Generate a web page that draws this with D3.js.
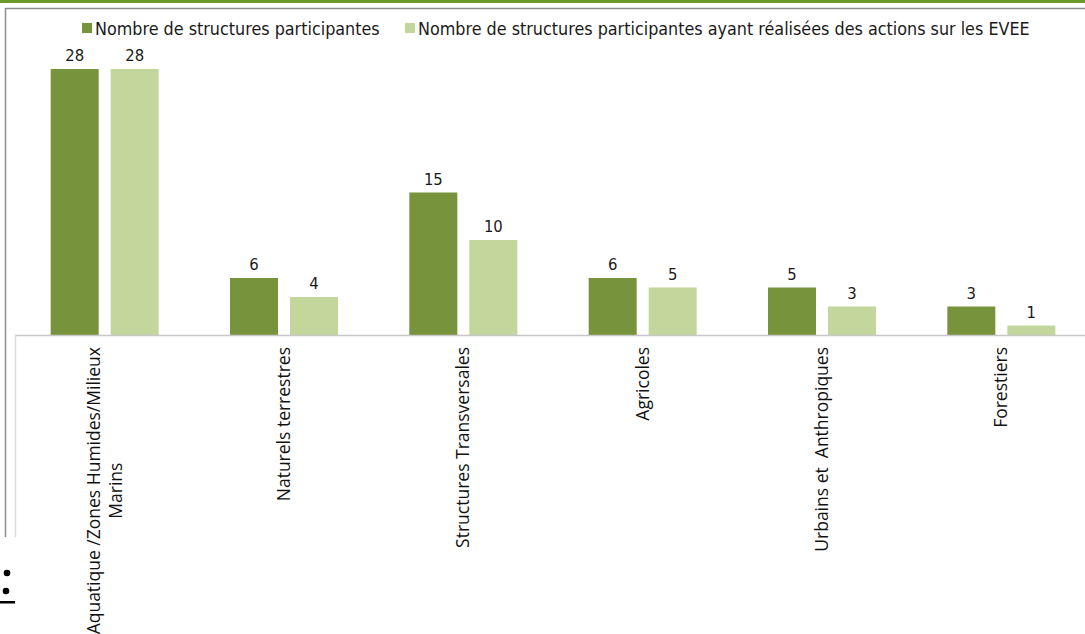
<!DOCTYPE html>
<html><head><meta charset="utf-8">
<script src="https://cdn.jsdelivr.net/npm/d3@7"></script>
<style>body{margin:0;background:#fff;}svg{display:block;}text{white-space:pre;}</style>
</head><body>
<script>
const categories = [["Aquatique /Zones Humides/Milieux","Marins"],["Naturels terrestres"],["Structures Transversales"],["Agricoles"],["Urbains et  Anthropiques"],["Forestiers"]];
const seriesNames = ["Nombre de structures participantes","Nombre de structures participantes ayant réalisées des actions sur les EVEE"];
const participantes = [28,6,15,6,5,3];
const avecActions = [28,4,10,5,3,1];
const colors = ["#77933c","#c3d69b"];

const W=1085,H=634;
const svg=d3.select("body").append("svg").attr("width",W).attr("height",H);

// top green band and frame
svg.append("rect").attr("x",0).attr("y",0).attr("width",W).attr("height",3).attr("fill","#6a9a2c");
svg.append("line").attr("x1",5).attr("x2",W).attr("y1",8.5).attr("y2",8.5).attr("stroke","#8c8c8c").attr("stroke-width",1.5);
svg.append("line").attr("x1",5.5).attr("x2",5.5).attr("y1",8).attr("y2",537).attr("stroke","#8c8c8c").attr("stroke-width",1.5);

const x0=d3.scaleBand().domain(d3.range(categories.length)).range([15,1091]).paddingInner(0).paddingOuter(0);
const x1=d3.scaleBand().domain([0,1]).range([0,108]).paddingInner(0.2);
const y=d3.scaleLinear().domain([0,28]).range([335,69]);

const data=[participantes,avecActions];
const g=svg.append("g");
data.forEach((vals,si)=>{
  const bx=(i)=>x0(i)+x0.bandwidth()/2-54+x1(si);
  g.selectAll(".b"+si).data(vals).enter().append("rect")
    .attr("x",(d,i)=>bx(i))
    .attr("y",d=>y(d))
    .attr("width",x1.bandwidth())
    .attr("height",d=>y(0)-y(d))
    .attr("fill",colors[si]);
  g.selectAll(".l"+si).data(vals).enter().append("text")
    .attr("x",(d,i)=>bx(i)+x1.bandwidth()/2)
    .attr("y",d=>y(d)-8)
    .attr("text-anchor","middle")
    .attr("font-family","DejaVu Sans Condensed")
    .attr("font-size",16.5)
    .attr("fill","#1a1a1a")
    .text(d=>d);
});

// axis baseline
svg.append("line").attr("x1",15).attr("x2",W).attr("y1",335.5).attr("y2",335.5).attr("stroke","#c8c8c8").attr("stroke-width",1.5);
svg.append("line").attr("x1",15.5).attr("x2",15.5).attr("y1",335).attr("y2",537).attr("stroke","#dcdcdc").attr("stroke-width",1.5);

// category labels
categories.forEach((lines,i)=>{
  const cx=x0(i)+x0.bandwidth()/2;
  const t=svg.append("text")
    .attr("transform",`translate(${cx},347) rotate(-90)`)
    .attr("text-anchor","end")
    .attr("font-family","Open Sans")
    .attr("font-size",17.5)
    .attr("fill","#111");
  const n=lines.length;
  lines.forEach((ln,k)=>{
    t.append("tspan").attr("x",0).attr("y",(k-(n-1)/2)*22+6).text(ln);
  });
  if(n>1){
    const spans=t.selectAll("tspan").nodes();
    const widths=spans.map(s=>s.getComputedTextLength());
    const maxW=Math.max(...widths);
    spans.forEach((s,k)=>{ d3.select(s).attr("x",-(maxW-widths[k])/2); });
  }
});

// legend
const leg=svg.append("g").attr("font-family","DejaVu Sans Condensed").attr("font-size",17.8).attr("fill","#1a1a1a");
const legX=[82,405];
seriesNames.forEach((s,i)=>{
  leg.append("rect").attr("x",legX[i]).attr("y",23).attr("width",10).attr("height",10).attr("fill",colors[i]);
  leg.append("text").attr("x",legX[i]+13).attr("y",35).text(s);
});

// bullets
svg.append("circle").attr("cx",7).attr("cy",573).attr("r",3.3).attr("fill","#000");
svg.append("circle").attr("cx",6).attr("cy",591).attr("r",3.3).attr("fill","#000");
svg.append("rect").attr("x",0).attr("y",601).attr("width",15).attr("height",2.5).attr("fill","#000");
</script>
</body></html>
